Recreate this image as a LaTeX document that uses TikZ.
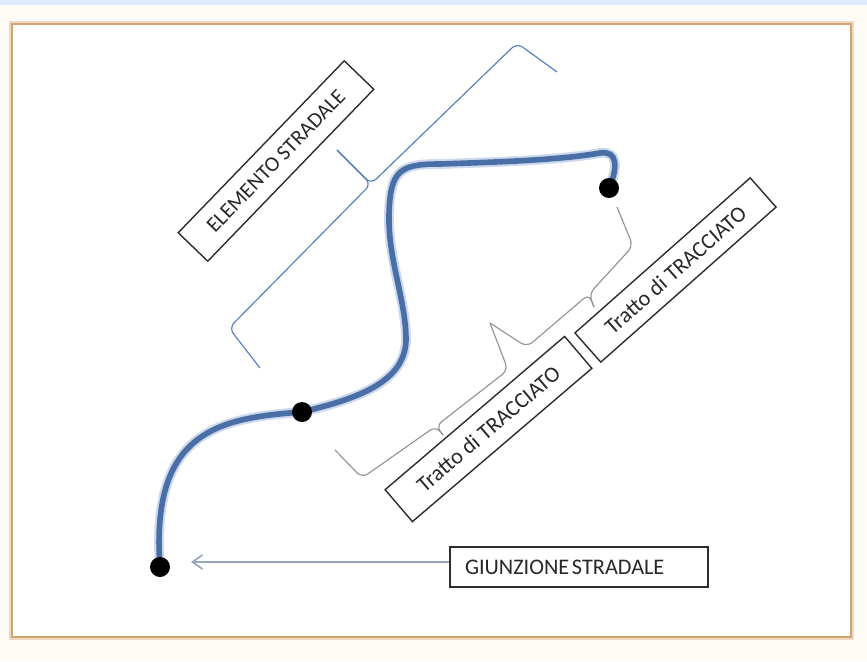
\documentclass[tikz,border=0pt]{standalone}
\usepackage{fontspec}
\setmainfont{Carlito}
\usetikzlibrary{arrows.meta,backgrounds}
\definecolor{roadblue}{RGB}{74,110,166}
\definecolor{roadhalo}{RGB}{205,217,236}
\definecolor{braceblue}{RGB}{88,128,186}
\definecolor{bracegray}{RGB}{150,150,150}
\definecolor{framebrown}{RGB}{212,162,108}
\definecolor{topband}{RGB}{222,235,250}
\definecolor{pointergray}{RGB}{150,166,186}
\definecolor{boxline}{RGB}{45,45,45}
\definecolor{boxtext}{RGB}{40,40,40}
\tikzset{
  namebox/.style={draw=boxline,line width=1.2pt,fill=white,text=boxtext,inner sep=0pt,font=\fontsize{19}{21}\selectfont},
  joint/.style={circle,fill=black,inner sep=0pt,minimum size=0.6cm},
  road/.style={draw=roadhalo,line width=1.8pt,double=roadblue,double distance=4.8pt},
  bracketline/.style={line width=1pt,rounded corners=6pt}
}

\begin{document}
\begin{tikzpicture}[x=0.03cm,y=-0.03cm]
                \useasboundingbox (0,0) rectangle (867,661);
                \node[joint] (j1) at (160,567) {};
                \node[joint] (j2) at (302,412) {};
                \node[joint] (j3) at (609,188) {};
                \node[namebox,rotate=46,minimum width=7.17cm,minimum height=1.23cm,font=\fontsize{18.2}{20}\selectfont] (es) at (276,161) {ELEMENTO STRADALE};
                \node[namebox,rotate=40.5,minimum width=7.08cm,minimum height=1.26cm] (t1) at (488.5,429) {Tratto di TRACCIATO};
                \node[namebox,rotate=41.5,minimum width=7.02cm,minimum height=1.17cm] (t2) at (675.5,270) {Tratto di TRACCIATO};
                \node[namebox,minimum width=7.74cm,minimum height=1.2cm,text width=6.84cm,align=left] (gs) at (579,567) {\spaceskip=0.12em GIUNZIONE STRADALE};
                \coordinate (gtip) at (191,562);
                \draw[pointergray,line width=1.4pt,-{Straight Barb[length=0.3cm,width=0.42cm]}] (gtip -| gs.west) -- (gtip);
                \begin{scope}[on background layer]
                \fill[white!97!orange] (0,0) rectangle (867,661);
                \fill[topband] (0,0) rectangle (867,5);
                \draw[framebrown!40,line width=4.5pt] (12,24) rectangle (851,637);
                \draw[framebrown,line width=2.2pt,fill=white] (12,24) rectangle (851,637);
                \draw[road] (j1.center) .. controls (150,430) and (220,418) .. (j2.center)
                    .. controls (350,400) and (405,385) .. (406,340)
                    .. controls (406,300) and (388,260) .. (389,215)
                    .. controls (390,170) and (400,164) .. (440,164)
                    .. controls (500,162) and (560,160) .. (600,153)
                    .. controls (618,150) and (618,168) .. (j3.center);
                \end{scope}
                \draw[bracketline,braceblue] (260,368) -- (229,328) -- (371,184) -- (337,150);
                \draw[bracketline,braceblue] (337,150) -- (371,184) -- (517,43) -- (557,72);
                \draw[bracketline,bracegray] (335,450) -- (362,478) -- (436,426) -- (443,435);
                \draw[bracketline,bracegray] (443,435) -- (436,426) -- (508,370) -- (490,323);
                \draw[bracketline,bracegray] (490,323) -- (527,347) -- (589,294) -- (594,307);
                \draw[bracketline,bracegray] (594,307) -- (589,294) -- (633,246) -- (617,207);
            \end{tikzpicture}
\end{document}
